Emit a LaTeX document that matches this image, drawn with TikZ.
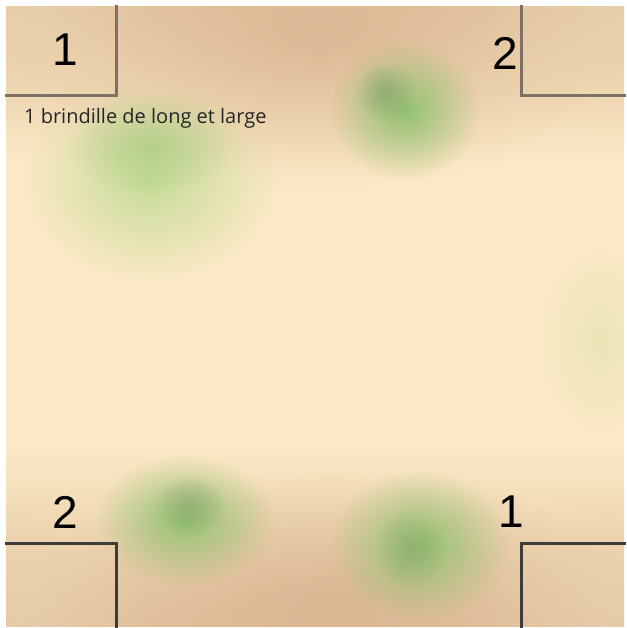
\documentclass[tikz,border=0pt]{standalone}
\usepackage{fontspec}
\setmainfont{Open Sans}
\newfontfamily\digitfont{Liberation Sans}
\usetikzlibrary{positioning, fadings}

\definecolor{soiltan}{HTML}{D9B692}
\definecolor{soilcream}{HTML}{FBE9C5}
\definecolor{soilbrown}{HTML}{D2A986}
\definecolor{soillight}{HTML}{E9CFAC}
\definecolor{grasspale}{HTML}{C6DC98}
\definecolor{grassgreen}{HTML}{93C272}
\definecolor{grassdark}{HTML}{86A46C}
\definecolor{walltop}{HTML}{7E7064}
\definecolor{wallbottom}{HTML}{3E3C3A}

\tikzfading[name=blobfade, inner color=transparent!0, outer color=transparent!100]
\pgfdeclareverticalshading{mapsoil}{100bp}{color(0bp)=(soiltan); color(18bp)=(soiltan); color(40bp)=(soilcream); color(62bp)=(soilcream); color(84bp)=(soiltan); color(100bp)=(soiltan)}

\begin{document}
\begin{tikzpicture}[x=1pt, y=-1pt,
  blob/.style={path fading=blobfade},
  wall/.style={line width=3pt, line cap=rect},
  count/.style={font=\digitfont\fontsize{46}{46}\selectfont, inner sep=0pt},
  hint/.style={font=\fontsize{20}{20}\selectfont, text=black!85, inner sep=0pt, anchor=west}]
\useasboundingbox (0,0) rectangle (626,628);
\fill[white] (0,0) rectangle (626,628);

% ground
\shade[shading=mapsoil] (6,7) rectangle (624,626);
\begin{scope}
\clip (6,7) rectangle (624,626);
\fill[soilbrown, blob, opacity=.6] (320,40) ellipse (300 and 150);
\fill[soilbrown, blob, opacity=.6] (330,600) ellipse (300 and 130);
\fill[soillight, blob, opacity=.7] (20,30) ellipse (130 and 110);
\fill[soillight, blob, opacity=.7] (610,30) ellipse (130 and 110);
\fill[soillight, blob, opacity=.7] (20,600) ellipse (130 and 110);
\fill[soillight, blob, opacity=.7] (610,600) ellipse (130 and 110);
\fill[soilcream, blob, opacity=.6] (300,330) ellipse (300 and 130);
% grass
\fill[grasspale, blob] (150,180) ellipse (125 and 100);
\fill[grassgreen, blob, opacity=.5] (150,145) ellipse (85 and 50);
\fill[grassgreen, blob] (405,110) ellipse (75 and 70);
\fill[grassdark, blob, opacity=.7] (385,92) ellipse (30 and 30);
\fill[grassgreen, blob] (185,520) ellipse (90 and 65);
\fill[grassdark, blob, opacity=.6] (190,505) ellipse (35 and 30);
\fill[grassgreen, blob] (420,545) ellipse (90 and 75);
\fill[grassdark, blob, opacity=.5] (410,550) ellipse (35 and 40);
\fill[grasspale, blob, opacity=.3] (600,340) ellipse (60 and 90);
\end{scope}

% corner squares
\draw[wall, walltop] (116,7) -- (116,96) -- (6,96);
\draw[wall, walltop] (521,7) -- (521,96) -- (624,96);
\draw[wall, wallbottom] (6,543) -- (116,543) -- (116,626);
\draw[wall, wallbottom] (624,543) -- (521,543) -- (521,626);

% labels
\node[count] (tl) at (65,50) {1};
\node[count] (tr) at (505,53) {2};
\node[count] (bl) at (65,512) {2};
\node[count] (br) at (511,512) {1};
\node[hint] (twig) at (24,118) {1 brindille de long et large};
\end{tikzpicture}
\end{document}
